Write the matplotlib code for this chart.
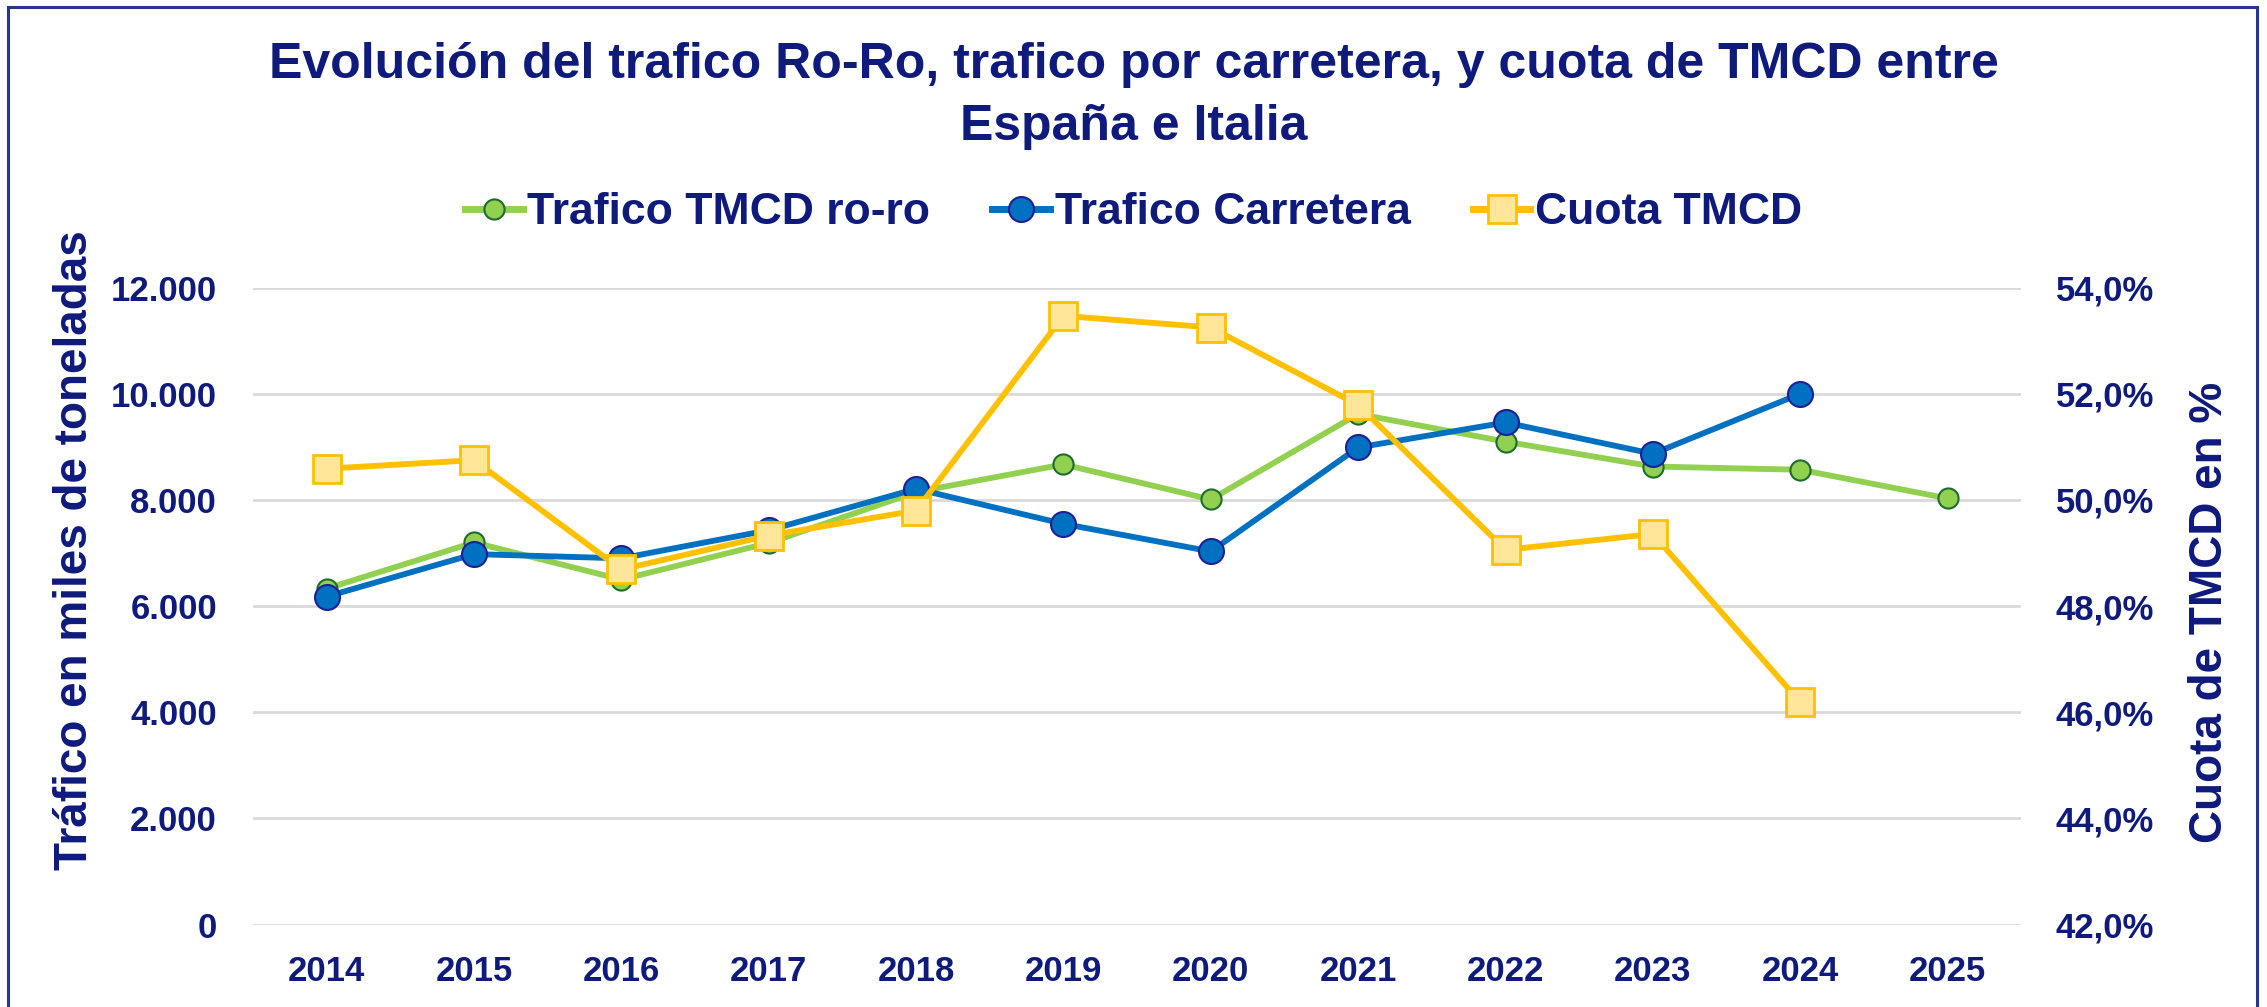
import numpy as np
import matplotlib
matplotlib.use("Agg")
import matplotlib.pyplot as plt
from matplotlib.patches import Rectangle

plt.rcParams["font.family"] = ["Liberation Sans", "DejaVu Sans"]
plt.rcParams["font.weight"] = "bold"

NAVY = "#0E1A7C"

years = ["2014", "2015", "2016", "2017", "2018", "2019",
         "2020", "2021", "2022", "2023", "2024", "2025"]
ro_ro = [6330, 7200, 6500, 7190, 8150, 8670, 8010, 9620, 9100, 8630, 8570, 8030]
carretera = [6180, 6980, 6900, 7430, 8210, 7550, 7030, 8990, 9460, 8870, 10000, np.nan]
cuota = [50.59, 50.75, 48.69, 49.33, 49.80, 53.47, 53.25, 51.79, 49.06, 49.36, 46.19, np.nan]

left_ticks = [0, 2000, 4000, 6000, 8000, 10000, 12000]
left_labels = ["0", "2.000", "4.000", "6.000", "8.000", "10.000", "12.000"]
right_ticks = [42, 44, 46, 48, 50, 52, 54]
right_labels = ["42,0%", "44,0%", "46,0%", "48,0%", "50,0%", "52,0%", "54,0%"]

fig = plt.figure(figsize=(22.67, 10.07), dpi=100)
ax = fig.add_axes([0.1116, 0.0819, 0.78, 0.6324])
ax2 = ax.twinx()

x = np.arange(len(years))

l1, = ax.plot(x, ro_ro, color="#92D050", lw=4.2, marker="o", ms=14.5,
              mfc="#92D050", mec="#1E6B2E", mew=1.5, label="Trafico TMCD ro-ro", zorder=3)
l2, = ax.plot(x, carretera, color="#0070C0", lw=4.2, marker="o", ms=18,
              mfc="#0070C0", mec="#1F1F9A", mew=1.5, label="Trafico Carretera", zorder=4)
l3, = ax2.plot(x, cuota, color="#FFC000", lw=4.2, marker="s", ms=19.5,
               mfc="#FFE699", mec="#FFC000", mew=2, label="Cuota TMCD", zorder=5)

ax.set_xlim(-0.5, len(years) - 0.5)
ax.set_ylim(0, 12000)
ax2.set_ylim(42, 54)

ax.set_xticks(x)
ax.set_xticklabels(years)
ax.set_yticks(left_ticks)
ax.set_yticklabels(left_labels)
ax2.set_yticks(right_ticks)
ax2.set_yticklabels(right_labels)

ax.grid(axis="y", color="#D9D9D9", lw=2)
ax.set_axisbelow(True)
for a in (ax, ax2):
    for s in a.spines.values():
        s.set_visible(False)
    a.tick_params(length=0, labelsize=25, labelcolor=NAVY)
ax.tick_params(axis="x", pad=22)
ax.tick_params(axis="y", pad=26)
ax2.tick_params(axis="y", pad=25)

fig.text(0.033, 1 - 550 / 1007, "Tráfico en miles de toneladas", rotation=90,
         ha="center", va="center", fontsize=33, color=NAVY, fontweight="bold")
fig.text(0.975, 1 - 612 / 1007, "Cuota de TMCD en %", rotation=90,
         ha="center", va="center", fontsize=33, color=NAVY, fontweight="bold")

fig.text(0.5, 1 - 96 / 1007,
         "Evolución del trafico Ro-Ro, trafico por carretera, y cuota de TMCD entre\nEspaña e Italia",
         ha="center", va="center", fontsize=36, color=NAVY, fontweight="bold",
         linespacing=1.45)

leg = fig.legend(handles=[l1, l2, l3], loc="center", bbox_to_anchor=(0.5, 1 - 213 / 1007),
                 ncol=3, frameon=False, fontsize=32, handlelength=1.3,
                 handletextpad=0.1, columnspacing=1.4)
for t in leg.get_texts():
    t.set_color(NAVY)
for h in leg.legend_handles:
    h.set_linewidth(5)

fig.patches.append(Rectangle((8 / 2267, -0.05), 2249 / 2267, 1.05 - 7 / 1007,
                             transform=fig.transFigure, fill=False,
                             edgecolor="#28368F", lw=2.2))

fig.savefig("out.png", dpi=100)
